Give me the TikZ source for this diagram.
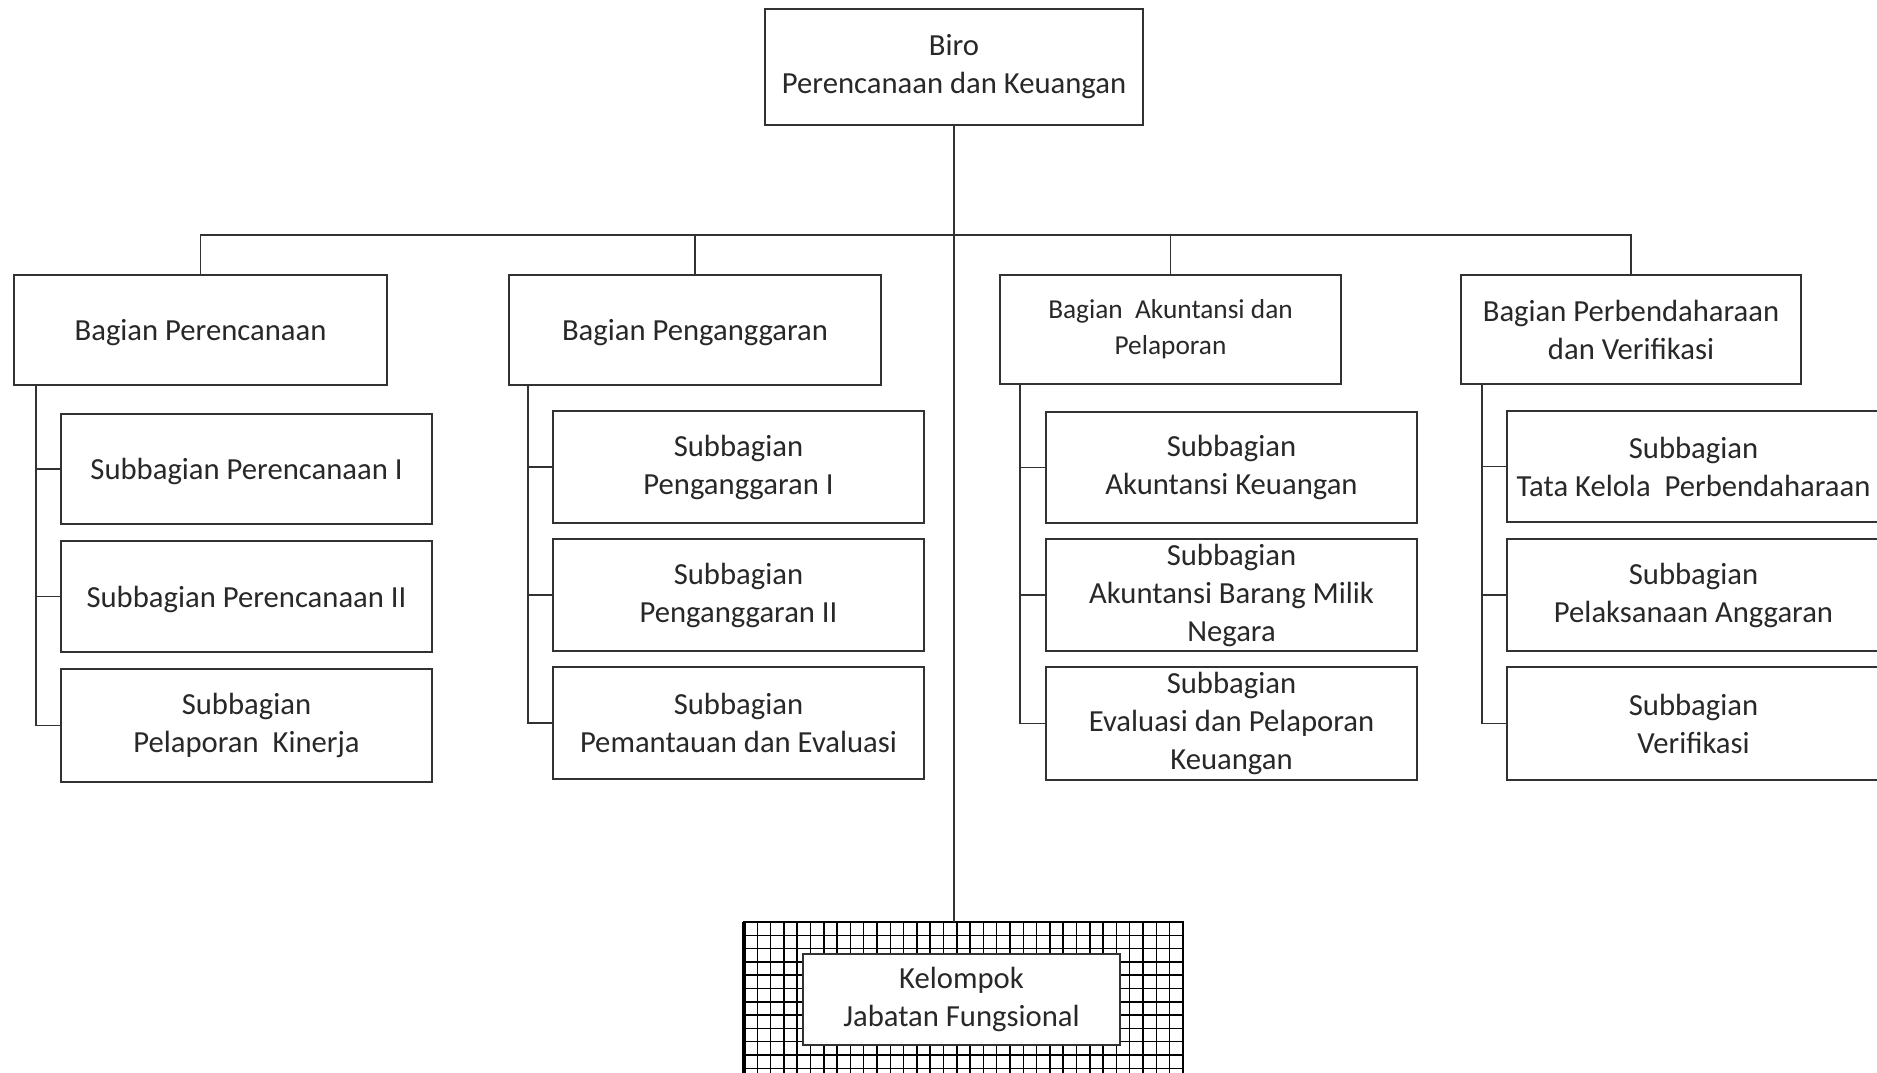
\documentclass[tikz,border=0pt]{standalone}
\usepackage{fontspec}
\setmainfont{Carlito}
\definecolor{lineC}{RGB}{50,50,50}
\definecolor{textC}{RGB}{40,40,40}
\tikzset{
  conn/.style={draw=lineC, line width=1.4pt},
  box/.style={draw=lineC, line width=1.4pt, fill=white, align=center, text=textC,
    font=\fontsize{23}{28.5}\selectfont, inner sep=0pt, outer sep=0pt,
    execute at begin node={\rule{0pt}{20pt}}},
  topbox/.style={box, execute at begin node={\rule{0pt}{25pt}}},
  smallbox/.style={box, font=\fontsize{20.5}{27}\selectfont},
  gridbox/.style={draw=black, line width=2pt, fill=white, inner sep=0pt, outer sep=0pt},
  gridl/.style={draw=black, line width=1.1pt},
}
\newcommand\obox[7]{\node[#1, minimum width={(#5-#3)*0.75pt}, minimum height={(#6-#4)*0.75pt}] (#2) at ({(#3+#5)/2},{(#4+#6)/2}) {#7};}
\begin{document}
\begin{tikzpicture}[x=0.75pt,y=-0.75pt]
\useasboundingbox (0,0) rectangle (1877,1072);
% top
\obox{topbox}{biro}{765}{9}{1143}{125}{Biro\\Perencanaan dan Keuangan}
% bagian
\obox{box}{bp}{14}{275}{387}{385}{Bagian Perencanaan}
\obox{box}{bang}{509}{275}{881}{385}{Bagian Penganggaran}
\obox{smallbox}{bak}{1000}{275}{1341}{384}{Bagian\ \ Akuntansi dan\\Pelaporan}
\obox{box}{bpv}{1461}{275}{1801}{384}{Bagian Perbendaharaan\\dan Verifikasi}
% subbagian perencanaan
\obox{box}{s11}{61}{414}{432}{524}{Subbagian Perencanaan I}
\obox{box}{s12}{61}{541}{432}{652}{Subbagian Perencanaan II}
\obox{box}{s13}{61}{669}{432}{782}{Subbagian\\Pelaporan\ \ Kinerja}
% subbagian penganggaran
\obox{box}{s21}{553}{411}{924}{523}{Subbagian\\Penganggaran I}
\obox{box}{s22}{553}{539}{924}{651}{Subbagian\\Penganggaran II}
\obox{box}{s23}{553}{667}{924}{779}{Subbagian\\Pemantauan dan Evaluasi}
% subbagian akuntansi
\obox{box}{s31}{1046}{412}{1417}{523}{Subbagian\\Akuntansi Keuangan}
\obox{box}{s32}{1046}{539}{1417}{651}{Subbagian\\Akuntansi Barang Milik\\Negara}
\obox{box}{s33}{1046}{667}{1417}{780}{Subbagian\\Evaluasi dan Pelaporan\\Keuangan}
% subbagian perbendaharaan
\obox{box}{s41}{1507}{411}{1880}{522}{Subbagian\\Tata Kelola\ \ Perbendaharaan}
\obox{box}{s42}{1507}{539}{1880}{651}{Subbagian\\Pelaksanaan Anggaran}
\obox{box}{s43}{1507}{667}{1880}{780}{Subbagian\\Verifikasi}
% kelompok jabatan fungsional
\obox{gridbox}{kjf}{744}{922}{1183}{1120}{}
\begin{scope}
  \clip (744,922) rectangle (1183,1072);
  \foreach \i in {0,...,33} \draw[gridl] ({744+\i*13.3},922) -- ++(0,160);
  \foreach \j in {0,...,12} \draw[gridl] (744,{922+\j*13.3}) -- ++(439,0);
\end{scope}
\draw[black, line width=2.5pt] (kjf.north west) -- (kjf.south west);
\obox{box}{kjfin}{803}{954}{1120}{1045}{Kelompok\\Jabatan Fungsional}
% connectors
\coordinate (bar) at (954,235);
\draw[conn] (biro.south) -- (biro.south |- kjf.north);
\draw[conn] (bp.north) -- (bp.north |- bar) -- (bpv.north |- bar) -- (bpv.north);
\draw[conn] (bang.north) -- (bang.north |- bar);
\draw[conn] (bak.north) -- (bak.north |- bar);
\draw[conn] ([xshift=16.5pt]bp.south west) |- (s11.west);
\draw[conn] ([xshift=16.5pt]bp.south west) |- (s12.west);
\draw[conn] ([xshift=16.5pt]bp.south west) |- (s13.west);
\draw[conn] ([xshift=14.25pt]bang.south west) |- (s21.west);
\draw[conn] ([xshift=14.25pt]bang.south west) |- (s22.west);
\draw[conn] ([xshift=14.25pt]bang.south west) |- (s23.west);
\draw[conn] ([xshift=15pt]bak.south west) |- (s31.west);
\draw[conn] ([xshift=15pt]bak.south west) |- (s32.west);
\draw[conn] ([xshift=15pt]bak.south west) |- (s33.west);
\draw[conn] ([xshift=15.75pt]bpv.south west) |- (s41.west);
\draw[conn] ([xshift=15.75pt]bpv.south west) |- (s42.west);
\draw[conn] ([xshift=15.75pt]bpv.south west) |- (s43.west);
\end{tikzpicture}
\end{document}
